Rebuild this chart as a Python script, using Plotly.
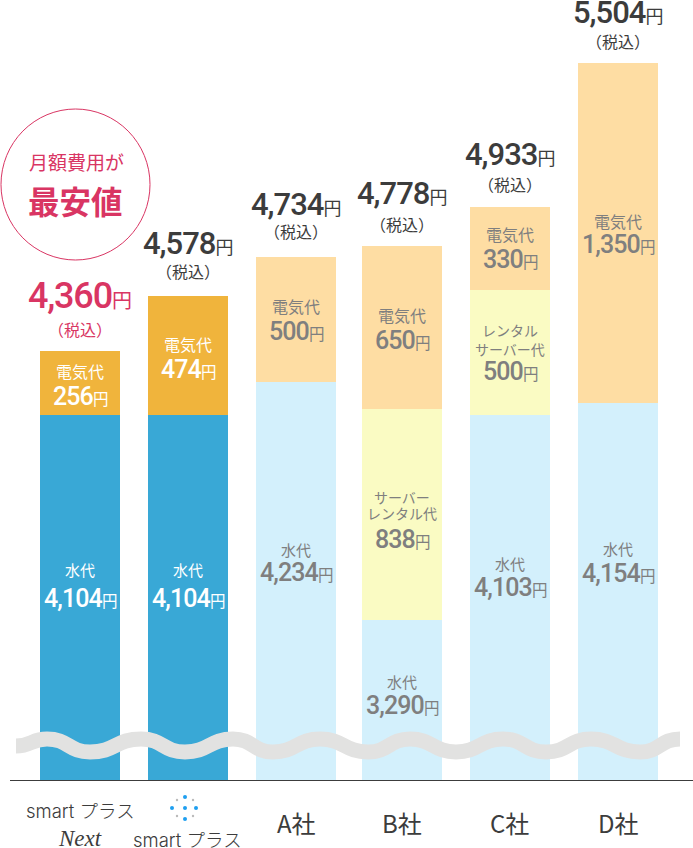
import plotly.graph_objects as go

W, H = 693, 848

# --- data ---
companies = ["smart プラス Next", "smart プラス", "A社", "B社", "C社", "D社"]
water = [4104, 4104, 4234, 3290, 4103, 4154]
server = [0, 0, 0, 838, 500, 0]
electric = [256, 474, 500, 650, 330, 1350]
totals = [4360, 4578, 4734, 4778, 4933, 5504]
water_colors = ["#39A8D6", "#39A8D6", "#D3F0FC", "#D3F0FC", "#D3F0FC", "#D3F0FC"]
electric_colors = ["#F0B43C", "#F0B43C", "#FEDDA3", "#FEDDA3", "#FEDDA3", "#FEDDA3"]
server_color = "#FAFBC3"
label_colors = ["#FFFFFF", "#FFFFFF", "#7F7F7F", "#7F7F7F", "#7F7F7F", "#7F7F7F"]
total_colors = ["#D93563", "#3C3C3C", "#3C3C3C", "#3C3C3C", "#3C3C3C", "#3C3C3C"]
server_labels = {3: ["サーバー", "レンタル代"], 4: ["レンタル", "サーバー代"]}

# --- placement (pixels, from the top of the picture) ---
total_num_py = [296, 243, 204, 194, 155, 12]
total_tax_py = [329, 271, 231, 224, 184, 41]
elec_lab_py = [371, 344, 306, 315, 234, 221]
elec_val_py = [396, 369, 331, 340, 259, 245]
water_lab_py = [569, 569, 549, 681, 563, 548]
water_val_py = [598, 598, 572, 705, 587, 573]
server_l1_py = {3: 497, 4: 330}
server_l2_py = {3: 513, 4: 349}
server_val_py = {3: 539, 4: 372}
bar_nudge_px = [0, 0, 0, -2, -2, -2]
wave_x = [16, 47, 90, 141, 185, 233, 273, 320, 368, 410, 456, 503, 546, 591, 640, 680]
wave_c = [746, 739, 752, 739, 752, 739, 752, 739, 752, 739, 752, 739, 752, 739, 752, 739]

NUM = "Roboto, 'Noto Sans CJK JP'"
JP = "'Noto Sans CJK JP'"


def px(x):
    return x / W


def py(y):
    return 1 - y / H


def money(v, big, small, spacing):
    return (f"<span style=\"font-size:{big}px;font-family:{NUM};font-weight:500;"
            f"letter-spacing:{spacing}px\">{v:,}</span>"
            f"<span style=\"font-size:{small}px;font-family:{JP}\">円</span>")


offsets = [-40 / 108 + n / 108 for n in bar_nudge_px]
fig = go.Figure()
for vals, col in [(water, water_colors), (server, server_color), (electric, electric_colors)]:
    fig.add_bar(x=companies, y=vals, offset=offsets, width=80 / 108,
                marker=dict(color=col, line_width=0), hoverinfo="skip")

ann = []


def text(i, y, t, size, color, font=JP, weight=400):
    ann.append(dict(x=companies[i], xref="x", xshift=bar_nudge_px[i], y=py(y), yref="paper", text=t,
                    showarrow=False, xanchor="center", yanchor="middle",
                    font=dict(size=size, color=color, family=font, weight=weight)))


for i in range(len(companies)):
    big, small, sp = (36, 20, -1.2) if i == 0 else (31, 18, -1.0)
    text(i, total_num_py[i], money(totals[i], big, small, sp), big, total_colors[i])
    text(i, total_tax_py[i], "（税込）", 16, total_colors[i])
    text(i, elec_lab_py[i], "電気代", 16, label_colors[i])
    text(i, elec_val_py[i], money(electric[i], 25, 15.5, -0.9), 25, label_colors[i])
    text(i, water_lab_py[i], "水代", 15, label_colors[i])
    text(i, water_val_py[i], money(water[i], 25, 15.5, -0.9), 25, label_colors[i])
    if i in server_labels:
        text(i, server_l1_py[i], server_labels[i][0], 14, label_colors[i])
        text(i, server_l2_py[i], server_labels[i][1], 14, label_colors[i])
        text(i, server_val_py[i], money(server[i], 25, 15.5, -0.9), 25, label_colors[i])

# badge
ann.append(dict(x=px(76), xref="paper", xanchor="center", y=py(161), yref="paper", yanchor="middle",
                text="月額費用が", showarrow=False, font=dict(size=19, color="#D93563", family=JP, weight=400)))
ann.append(dict(x=px(75), xref="paper", xanchor="center", y=py(200), yref="paper", yanchor="middle",
                text="<b>最安値</b>", showarrow=False, font=dict(size=31.5, color="#D93563", family=JP)))

# category labels
for x, y, t, s, f, w in [
    (80, 811, "smart プラス", 18.5, "Inter, 'Noto Sans CJK JP'", 300),
    (80, 838, "<i>Next</i>", 23, "'Liberation Serif'", 400),
    (187, 840, "smart プラス", 18.5, "Inter, 'Noto Sans CJK JP'", 300),
    (296, 822, "A社", 24, JP, 400),
    (402, 822, "B社", 24, JP, 400),
    (510, 822, "C社", 24, JP, 400),
    (618, 822, "D社", 24, JP, 400),
]:
    ann.append(dict(x=px(x), xref="paper", xanchor="center", y=py(y), yref="paper", yanchor="middle",
                    text=t, showarrow=False, font=dict(size=s, color="#3C3C3C", family=f, weight=w)))

# wave path
d = f"M {px(wave_x[0])},{py(wave_c[0])}"
for k in range(1, len(wave_x)):
    mx = (wave_x[k - 1] + wave_x[k]) / 2
    d += f" C {px(mx)},{py(wave_c[k-1])} {px(mx)},{py(wave_c[k])} {px(wave_x[k])},{py(wave_c[k])}"

shapes = [
    dict(type="path", path=d, xref="paper", yref="paper", line=dict(color="#E2E2E1", width=15), layer="above"),
    dict(type="line", xref="paper", yref="paper", x0=px(10), x1=1, y0=py(780.5), y1=py(780.5),
         line=dict(color="#3C3C3C", width=1), layer="above"),
    dict(type="circle", xref="paper", yref="paper", x0=px(1), x1=px(150), y0=py(109), y1=py(260),
         line=dict(color="#D93563", width=1)),
]
for cx, cy, r, c in [(185, 797, 2, "#1E9FF0"), (172, 808, 2, "#1E9FF0"), (185, 808, 2, "#1E9FF0"),
                     (196, 808, 2, "#1E9FF0"), (185, 819, 2, "#1E9FF0"), (177, 800, 1.2, "#BBBBBB"),
                     (193, 800, 1.2, "#BBBBBB"), (177, 816, 1.2, "#BBBBBB"), (193, 816, 1.2, "#BBBBBB")]:
    shapes.append(dict(type="circle", xref="paper", yref="paper", x0=px(cx - r), x1=px(cx + r),
                       y0=py(cy + r), y1=py(cy - r), fillcolor=c, line_width=0))

fig.update_layout(
    width=W, height=H, margin=dict(l=0, r=0, t=0, b=0), barmode="stack", showlegend=False,
    paper_bgcolor="white", plot_bgcolor="white",
    xaxis=dict(type="category", categoryorder="array", categoryarray=companies,
               range=[-80 / 108, (W - 80) / 108], showticklabels=False, showgrid=False,
               zeroline=False, ticks="", fixedrange=True),
    yaxis=dict(domain=[py(780), 1], range=[2653, 2653 + 780 / 0.2515], showticklabels=False,
               showgrid=False, zeroline=False, ticks="", fixedrange=True),
    annotations=ann, shapes=shapes,
)
fig.write_html("out.html", config={"displayModeBar": False},
               post_script="document.body.style.margin='0';document.body.style.overflow='hidden';")
